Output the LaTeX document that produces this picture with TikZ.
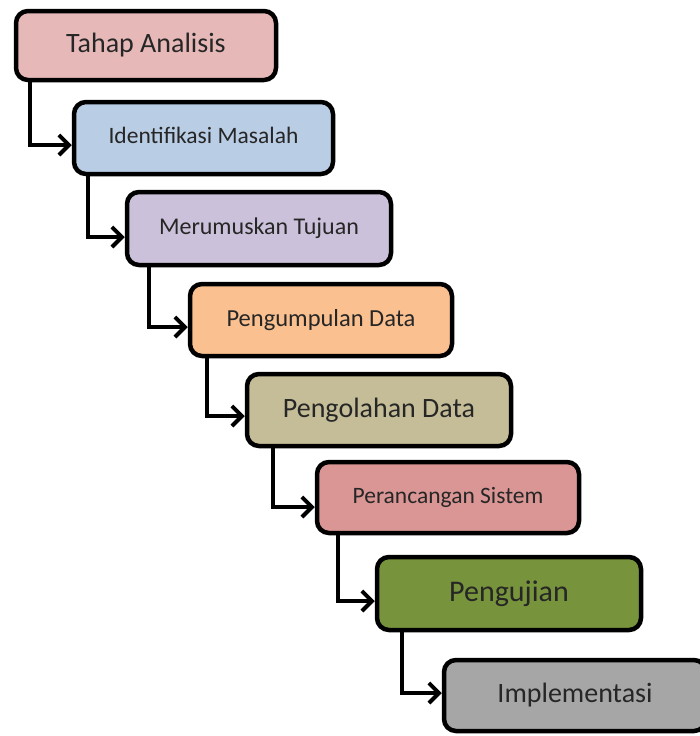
\documentclass[tikz,border=0pt]{standalone}
\usepackage{fontspec}
\setmainfont{Carlito}
\usetikzlibrary{arrows.meta}
\definecolor{cA}{HTML}{E6B9B8}
\definecolor{cB}{HTML}{B9CDE5}
\definecolor{cC}{HTML}{CCC1DA}
\definecolor{cD}{HTML}{FAC090}
\definecolor{cE}{HTML}{C4BD97}
\definecolor{cF}{HTML}{D99694}
\definecolor{cG}{HTML}{77933C}
\definecolor{cH}{HTML}{A6A6A6}
\definecolor{txt}{HTML}{262626}
\begin{document}
\begin{tikzpicture}[x=1pt,y=-1pt,
  stage/.style={draw=black, line width=4.5pt, rounded corners=12pt, text=txt,
    minimum width=#1, inner sep=0pt},
  conn/.style={draw=black, line width=4pt, -{Straight Barb[length=10pt,width=20pt,line width=4pt]}}]
\useasboundingbox (0,0) rectangle (699,736);
\node[stage=260pt, minimum height=69pt, fill=cA, font=\fontsize{28}{30}\selectfont] (b1) at (146,45.5) {Tahap Analisis};
\node[stage=259pt, minimum height=72pt, fill=cB, font=\fontsize{23.5}{26}\selectfont] (b2) at (203.5,138) {\raisebox{5pt}{Identifikasi Masalah}};
\node[stage=264pt, minimum height=73pt, fill=cC, font=\fontsize{24}{26}\selectfont] (b3) at (259,228.5) {\raisebox{5pt}{Merumuskan Tujuan}};
\node[stage=262pt, minimum height=72pt, fill=cD, font=\fontsize{24.5}{26}\selectfont] (b4) at (321,320) {Pengumpulan Data};
\node[stage=264pt, minimum height=72pt, fill=cE, font=\fontsize{28}{30}\selectfont] (b5) at (379,410) {\raisebox{3pt}{Pengolahan Data}};
\node[stage=262pt, minimum height=71pt, fill=cF, font=\fontsize{23.5}{26}\selectfont] (b6) at (448,497.5) {\raisebox{4pt}{Perancangan Sistem}};
\node[stage=264pt, minimum height=73pt, fill=cG, font=\fontsize{30}{32}\selectfont] (b7) at (509,593.5) {Pengujian};
\node[stage=262pt, minimum height=71pt, fill=cH, font=\fontsize{28}{30}\selectfont] (b8) at (575,695.5) {Implementasi};
\draw[conn] ([xshift=16pt]b1.south west) |- ([yshift=-7pt]b2.west);
\draw[conn] ([xshift=16pt]b2.south west) |- ([yshift=-8.5pt]b3.west);
\draw[conn] ([xshift=24pt]b3.south west) |- ([yshift=-7pt]b4.west);
\draw[conn] ([xshift=19pt]b4.south west) |- ([yshift=-6pt]b5.west);
\draw[conn] ([xshift=28pt]b5.south west) |- ([yshift=-9.5pt]b6.west);
\draw[conn] ([xshift=23pt]b6.south west) |- ([yshift=-7.5pt]b7.west);
\draw[conn] ([xshift=27pt]b7.south west) |- ([yshift=2.5pt]b8.west);
\end{tikzpicture}
\end{document}
